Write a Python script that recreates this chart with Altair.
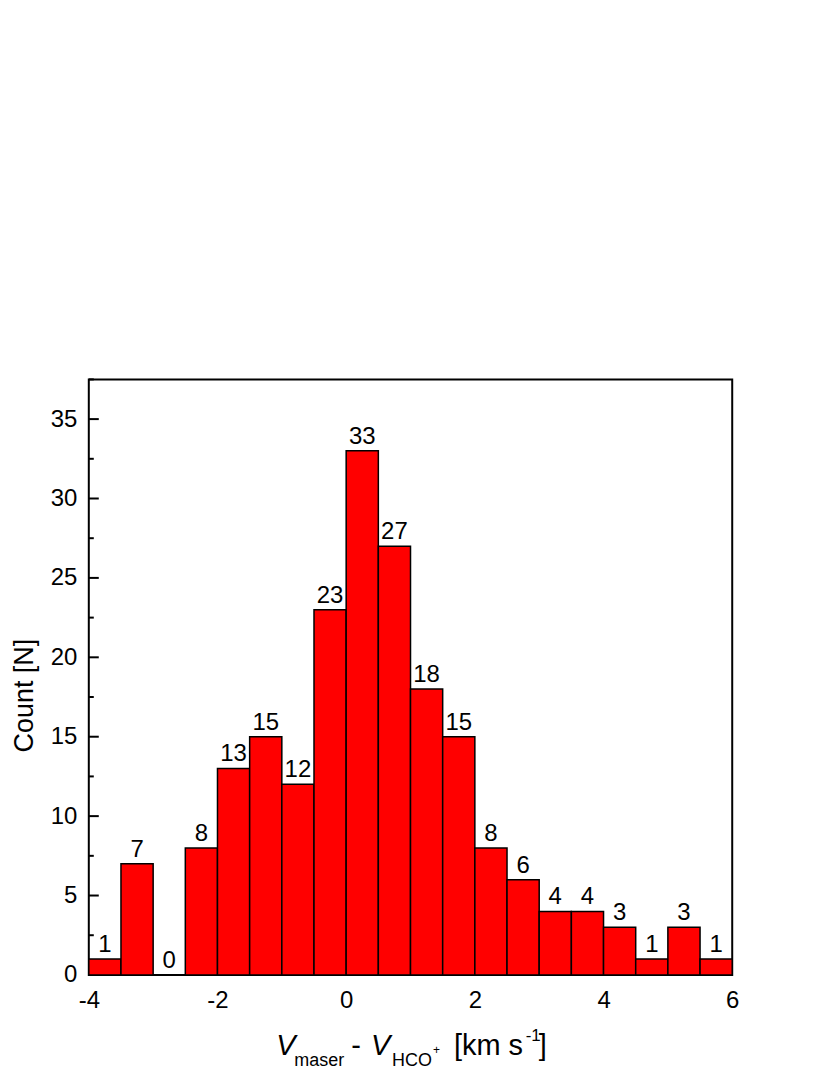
import altair as alt
import pandas as pd

# ---- data ----
bin_start = [-4.0, -3.5, -3.0, -2.5, -2.0, -1.5, -1.0, -0.5, 0.0, 0.5,
             1.0, 1.5, 2.0, 2.5, 3.0, 3.5, 4.0, 4.5, 5.0, 5.5]
bin_end = [-3.5, -3.0, -2.5, -2.0, -1.5, -1.0, -0.5, 0.0, 0.5, 1.0,
           1.5, 2.0, 2.5, 3.0, 3.5, 4.0, 4.5, 5.0, 5.5, 6.0]
counts = [1, 7, 0, 8, 13, 15, 12, 23, 33, 27, 18, 15, 8, 6, 4, 4, 3, 1, 3, 1]

x_ticks = [-4, -2, 0, 2, 4, 6]
y_major = [0, 5, 10, 15, 20, 25, 30, 35]
y_minor = [2.5, 7.5, 12.5, 17.5, 22.5, 27.5, 32.5, 37.5]

FONT = "Arial, Liberation Sans"
W, H = 645, 597

df = pd.DataFrame({"start": bin_start, "end": bin_end, "count": counts})
major_df = pd.DataFrame({"v": y_major})
minor_df = pd.DataFrame({"v": y_minor})

xscale = alt.Scale(domain=[-4, 6], nice=False, zero=False)
yscale = alt.Scale(domain=[0, 37.5], nice=False)

xaxis = alt.Axis(values=x_ticks, title=None, grid=False, ticks=False, tickSize=0,
                 domain=False, labelFontSize=24, labelFont=FONT, labelColor="black",
                 labelPadding=14, labelExpr="datum.value + ''", labelFlush=False)
yaxis = alt.Axis(values=y_major, title=None, grid=False, ticks=False, tickSize=0,
                 domain=False, labelFontSize=24, labelFont=FONT, labelColor="black",
                 labelPadding=12, labelExpr="datum.value + ''")

bars = alt.Chart(df).mark_rect(color="#FF0000", stroke="black", strokeWidth=1.5).encode(
    x=alt.X("start:Q", scale=xscale, axis=xaxis),
    x2="end:Q",
    y=alt.Y("count:Q", scale=yscale, axis=yaxis),
    y2=alt.datum(0),
)

labels = alt.Chart(df).mark_text(fontSize=24, font=FONT, color="black",
                                 baseline="alphabetic", dy=-7).encode(
    x=alt.X("mid:Q", scale=xscale),
    y=alt.Y("count:Q", scale=yscale),
    text="count:Q",
).transform_calculate(mid="(datum.start + datum.end) / 2")

major_ticks = alt.Chart(major_df).mark_rule(color="black", strokeWidth=2).encode(
    y=alt.Y("v:Q", scale=yscale), x=alt.value(0), x2=alt.value(10))
minor_ticks = alt.Chart(minor_df).mark_rule(color="black", strokeWidth=2).encode(
    y=alt.Y("v:Q", scale=yscale), x=alt.value(0), x2=alt.value(5))


def txt(s, x, y, size, italic=False, align="left", angle=0, baseline="alphabetic"):
    kw = dict(text=s, fontSize=size, font=FONT, color="black", align=align,
              baseline=baseline)
    if italic:
        kw["fontStyle"] = "italic"
    if angle:
        kw["angle"] = angle
    return alt.Chart(pd.DataFrame({"a": [0]})).mark_text(**kw).encode(
        x=alt.value(x), y=alt.value(y))


title_parts = [
    txt("V", 188, 677, 29, italic=True),
    txt("maser", 206, 688, 18),
    txt("-", 268, 677, 29, align="center"),
    txt("V", 283, 677, 29, italic=True),
    txt("HCO", 304, 688, 18),
    txt("+", 345, 676, 12),
    txt("[km s", 366, 677, 29),
    txt("-1", 438, 663, 17),
    txt("]", 451, 677, 29),
    txt("Count [N]", -64, 317, 27, align="center", angle=270, baseline="middle"),
]

chart = alt.layer(major_ticks, minor_ticks, bars, labels, *title_parts).properties(
    width=W, height=H,
    autosize=alt.AutoSizeParams(type="none"),
    padding={"left": 81, "top": 371, "right": 90, "bottom": 96},
    background="white",
).configure_view(stroke="black", strokeWidth=2)

chart.save("out.html", embed_options={"renderer": "svg", "actions": False})
